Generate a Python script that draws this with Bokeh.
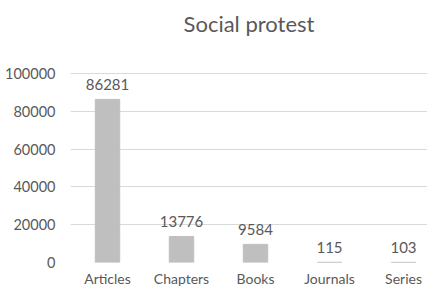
from bokeh.plotting import figure
from bokeh.models import ColumnDataSource, FixedTicker
from bokeh.core.properties import value
from bokeh.embed import file_html
from bokeh.resources import INLINE

categories = ["Articles", "Chapters", "Books", "Journals", "Series"]
counts = [86281, 13776, 9584, 115, 103]
y_ticks = [0, 20000, 40000, 60000, 80000, 100000]

FONT = "Lato"
TXT = "#595959"

xs = list(range(len(categories)))
src = ColumnDataSource(dict(x=xs, top=counts, label=[str(c) for c in counts]))

p = figure(width=427, height=289, output_backend="svg", toolbar_location=None,
           x_range=(-0.5, 4.324), y_range=(0, 118500),
           min_border_left=70, min_border_right=0, min_border_bottom=0, min_border_top=38)

p.title.text = "Social protest"
p.title.align = "center"
p.title.vertical_align = "top"
p.title.text_font = FONT
p.title.text_font_size = "22px"
p.title.text_font_style = "normal"
p.title.text_color = TXT
p.title.standoff = 0
p.title.offset = -3

p.vbar(x="x", top="top", width=0.33, source=src, color="#bfbfbf")
p.text(x="x", y="top", text="label", source=src, text_align="center", text_baseline="bottom",
       y_offset=-9, text_font=value(FONT), text_font_size="15px", text_color=TXT)

p.outline_line_color = None
p.background_fill_color = "white"
p.border_fill_color = "white"

p.xgrid.grid_line_color = None
p.ygrid.grid_line_color = "#d9d9d9"
p.ygrid.grid_line_width = 1

p.yaxis.ticker = FixedTicker(ticks=y_ticks)
p.yaxis.axis_line_color = None
p.yaxis.major_tick_line_color = None
p.yaxis.minor_tick_line_color = None
p.yaxis.major_tick_out = 0
p.yaxis.major_tick_in = 0
p.yaxis.major_label_standoff = 15
p.yaxis.major_label_text_font = FONT
p.yaxis.major_label_text_font_size = "14.5px"
p.yaxis.major_label_text_color = TXT
p.yaxis.formatter.use_scientific = False

p.xaxis.ticker = FixedTicker(ticks=xs)
p.xaxis.major_label_overrides = {i: c for i, c in zip(xs, categories)}
p.xaxis.axis_line_color = None
p.xaxis.major_tick_line_color = None
p.xaxis.minor_tick_line_color = None
p.xaxis.major_tick_out = 0
p.xaxis.major_tick_in = 0
p.xaxis.major_label_standoff = 7
p.xaxis.major_label_text_font = FONT
p.xaxis.major_label_text_font_size = "14px"
p.xaxis.major_label_text_color = TXT

open("out.html", "w").write(file_html(p, INLINE))
